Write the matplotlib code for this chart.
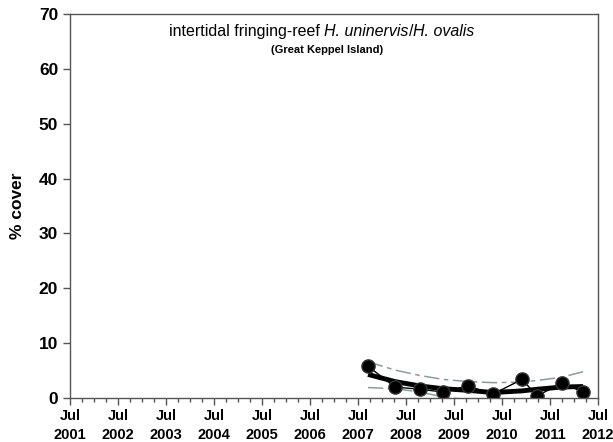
import pandas as pd
import matplotlib
matplotlib.use("Agg")
import matplotlib.pyplot as plt
import matplotlib.dates as mdates
from matplotlib.offsetbox import TextArea, HPacker, AnchoredOffsetbox

plt.rcParams["font.family"] = ["Liberation Sans", "DejaVu Sans"]

# sampling dates and observed % cover
dates = pd.to_datetime(["2007-09-16", "2008-04-08", "2008-10-15", "2009-04-08",
                        "2009-10-15", "2010-04-23", "2010-12-01", "2011-03-25",
                        "2011-10-01", "2012-03-10"])
cover = [5.8, 2.0, 1.6, 1.1, 2.2, 0.7, 3.4, 0.4, 2.7, 1.1]

# fitted trend and confidence band, read at the same dates
trend = [4.3, 3.0, 2.2, 1.7, 1.4, 1.0, 1.3, 1.6, 2.0, 2.1]
upper = [6.6, 5.1, 4.1, 3.4, 3.0, 2.8, 2.9, 3.2, 3.8, 4.8]
lower = [1.9, 1.7, 1.1, 0.2, -0.3, -0.6, -0.5, -0.4, -0.3, -0.5]

fig = plt.figure(figsize=(6.13, 4.42), dpi=100)
ax = fig.add_axes([0.1142, 0.0995, 0.8613, 0.8688])

band_style = dict(color="#8c9c9c", lw=1.1, dashes=(10, 3, 3, 3))
ax.plot(dates, upper, **band_style)
ax.plot(dates, lower, **band_style)
ax.plot(dates, trend, color="black", lw=3.5, solid_capstyle="butt")
ax.plot(dates, cover, color="black", lw=1, marker="o", ms=9.5,
        markerfacecolor="black", markeredgecolor="#333333")

ax.set_xlim(pd.Timestamp("2001-07-01"), pd.Timestamp("2012-07-01"))
ax.set_ylim(0, 70)
ax.set_yticks(range(0, 71, 10))

ax.xaxis.set_major_locator(mdates.MonthLocator(bymonth=7))
ax.xaxis.set_minor_locator(mdates.MonthLocator(bymonth=[1, 4, 7, 10]))
ax.xaxis.set_major_formatter(mdates.DateFormatter("%b\n%Y"))

ax.tick_params(axis="both", which="major", length=5, width=1, color="#555555")
ax.tick_params(axis="x", which="minor", length=3, width=1, color="#555555")
ax.tick_params(axis="x", labelsize=10.5, pad=3)
ax.tick_params(axis="y", labelsize=12.5)
for lab in ax.get_xticklabels():
    lab.set_fontweight("bold")
    lab.set_linespacing(1.45)
for lab in ax.get_yticklabels():
    lab.set_fontweight("bold")
for sp in ax.spines.values():
    sp.set_color("#555555")
    sp.set_linewidth(1)

ax.set_ylabel("% cover", fontsize=12.5, fontweight="bold", labelpad=10)

# title with mixed upright / italic pieces
pieces = [("intertidal fringing-reef ", "normal"), ("H. uninervis", "italic"),
          ("/", "normal"), ("H. ovalis", "italic")]
areas = [TextArea(t, textprops=dict(fontsize=11.5, fontstyle=s)) for t, s in pieces]
title = AnchoredOffsetbox(loc="center", child=HPacker(children=areas, pad=0, sep=0),
                          frameon=False, bbox_to_anchor=(0.477, 0.955),
                          bbox_transform=ax.transAxes, borderpad=0, pad=0)
ax.add_artist(title)
ax.text(0.487, 0.907, "(Great Keppel Island)", transform=ax.transAxes,
        ha="center", va="center", fontsize=8, fontweight="bold")

fig.savefig("out.png", dpi=100)
